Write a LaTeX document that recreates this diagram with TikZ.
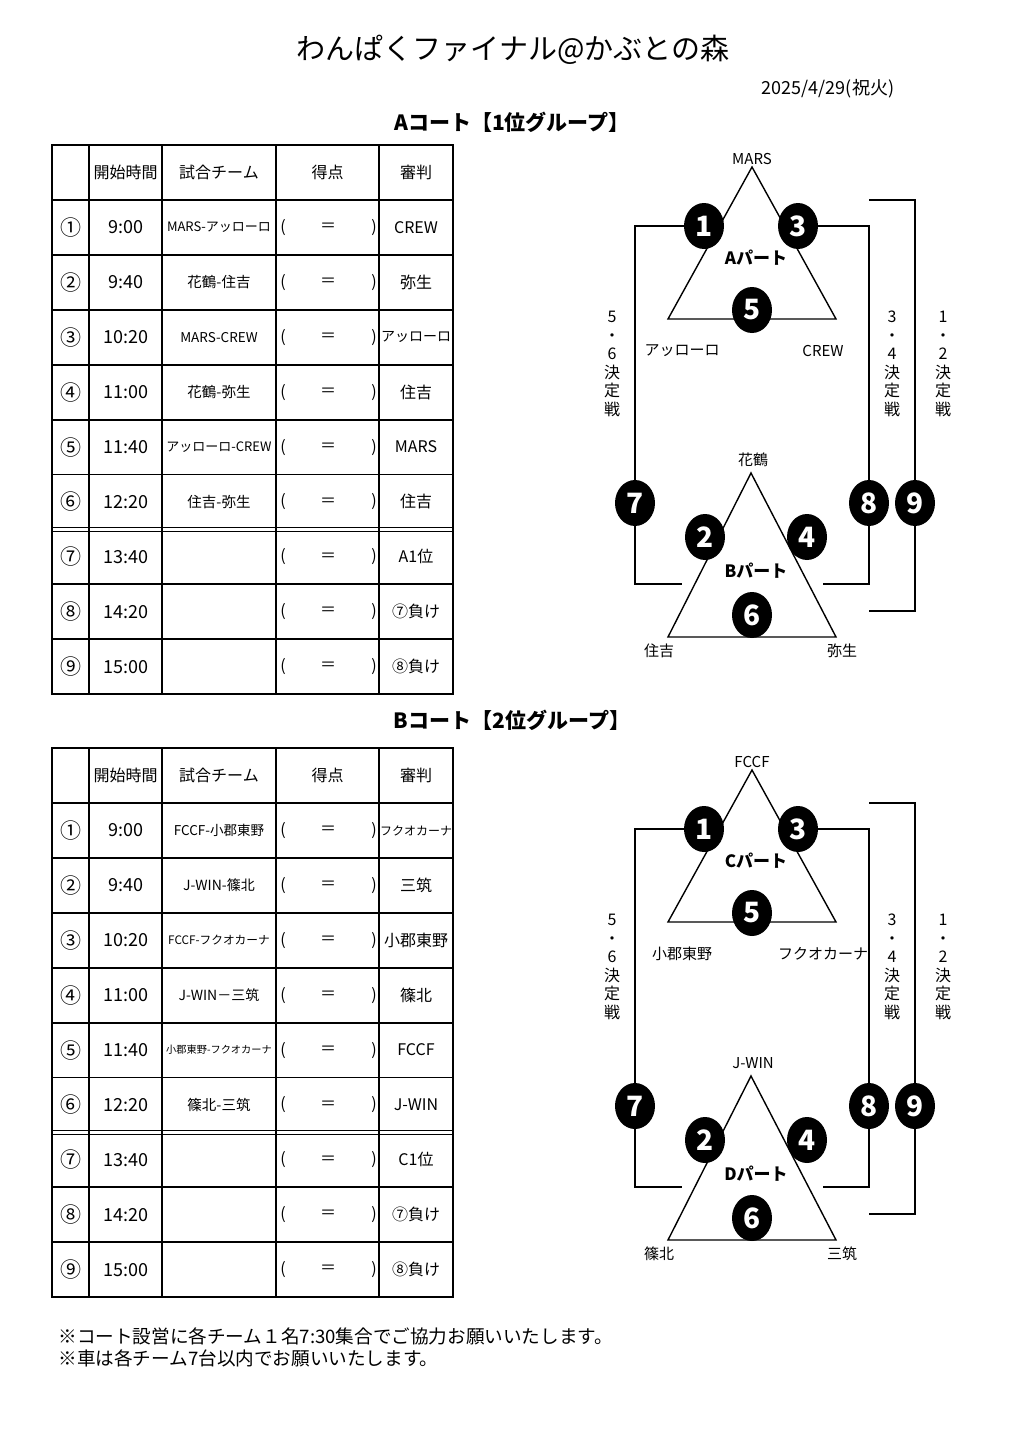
\documentclass[tikz,border=0pt]{standalone}
\usepackage{fontspec}
\setmainfont{Noto Sans CJK JP}
\usetikzlibrary{shapes.geometric}
\newcommand{\fs}[1]{\fontsize{#1}{#1}\selectfont}

\tikzset{
  tbl/.style={line width=1.8pt},
  cell/.style={inner sep=0pt, font=\fs{16}},
  gamedot/.style={ellipse, fill=black, text=white, minimum width=40pt,
    minimum height=46pt, inner sep=0pt, font=\bfseries\fs{28}},
  tri/.style={line width=1.4pt, line join=miter},
  bracket/.style={line width=2.8pt},
  lbl/.style={inner sep=0pt, font=\fs{15}},
  vlbl/.style={inner sep=0pt, align=center, font=\fontsize{16}{18.5}\selectfont},
}

\begin{document}
\begin{tikzpicture}[x=1pt, y=-1pt]
  \useasboundingbox (0,0) rectangle (1031,1435);

  \node[font=\fs{29}] (title) at (513,50) {わんぱくファイナル@かぶとの森};
  \node[font=\fs{18}] (date) at (828,89) {2025/4/29(祝火)};
  \node[font=\bfseries\fs{21}] (headA) at (512,122) {Aコート【1位グループ】};
  \node[font=\bfseries\fs{21}] (headB) at (512,720) {Bコート【2位グループ】};

  %% table grids
  \foreach \T/\g in {145/a, 748/b}{
    \draw[tbl] (52,\T) rectangle (453,\T+549);
    \foreach \cx in {89,162,276,379}
      \draw[tbl] (\cx,\T) -- (\cx,\T+549);
    \foreach \k in {0,...,5,7,8}
      \draw[tbl] (52,\T+55+54.9*\k) -- (453,\T+55+54.9*\k);
    \draw[line width=1.1pt] (52,\T+382.6) -- (453,\T+382.6);
    \draw[line width=1.1pt] (52,\T+386.2) -- (453,\T+386.2);
    \node[cell] (\g-h1) at (125.5,\T+27.5) {開始時間};
    \node[cell] (\g-h2) at (219,\T+27.5) {試合チーム};
    \node[cell] (\g-h3) at (327.5,\T+27.5) {得点};
    \node[cell] (\g-h4) at (416,\T+27.5) {審判};
    \foreach \k in {1,...,9}{
      \pgfmathsetmacro\yy{\T+55+54.9*(\k-0.5)}
      \node[cell] (\g-l\k) at (283,\yy) {(};
      \node[cell] (\g-e\k) at (328,\yy) {＝};
      \node[cell] (\g-r\k) at (374,\yy) {)};
    }
  }

  %% A court rows
  \foreach \gno/\tm/\sz/\tmm/\rf [count=\k] in {
    ①/9:00/13/MARS-アッローロ/CREW,
    ②/9:40/14.5/花鶴-住吉/弥生,
    ③/10:20/13.5/MARS-CREW/{\fs{14}アッローロ},
    ④/11:00/14.5/花鶴-弥生/住吉,
    ⑤/11:40/13/アッローロ-CREW/MARS,
    ⑥/12:20/14.5/住吉-弥生/住吉,
    ⑦/13:40/14//A1位,
    ⑧/14:20/14//⑦負け,
    ⑨/15:00/14//⑧負け}{
    \pgfmathsetmacro\yy{200+54.9*(\k-0.5)}
    \node[cell, font=\fs{21}] (a-n\k) at (71,\yy) {\gno};
    \node[cell, font=\fs{18}] (a-t\k) at (126,\yy) {\tm};
    \node[cell, font=\fs{\sz}] (a-m\k) at (219,\yy) {\tmm};
    \node[cell] (a-f\k) at (416,\yy) {\rf};
  }

  %% B court rows
  \foreach \gno/\tm/\sz/\tmm/\rf [count=\k] in {
    ①/9:00/13.5/FCCF-小郡東野/{\fs{12}フクオカーナ},
    ②/9:40/14/J-WIN-篠北/三筑,
    ③/10:20/11.7/FCCF-フクオカーナ/小郡東野,
    ④/11:00/14/J-WIN－三筑/篠北,
    ⑤/11:40/10.2/小郡東野-フクオカーナ/FCCF,
    ⑥/12:20/14.5/篠北-三筑/J-WIN,
    ⑦/13:40/14//C1位,
    ⑧/14:20/14//⑦負け,
    ⑨/15:00/14//⑧負け}{
    \pgfmathsetmacro\yy{803+54.9*(\k-0.5)}
    \node[cell, font=\fs{21}] (b-n\k) at (71,\yy) {\gno};
    \node[cell, font=\fs{18}] (b-t\k) at (126,\yy) {\tm};
    \node[cell, font=\fs{\sz}] (b-m\k) at (219,\yy) {\tmm};
    \node[cell] (b-f\k) at (416,\yy) {\rf};
  }

  %% brackets
  \foreach \dy/\upart/\lpart/\utop/\uleft/\uright/\ltop/\lleft/\lright in {
    0/A/B/MARS/アッローロ/CREW/花鶴/住吉/弥生,
    603/C/D/FCCF/小郡東野/フクオカーナ/J-WIN/篠北/三筑}{
    \draw[tri] (752,167+\dy) -- (668,319+\dy) -- (836,319+\dy) -- cycle;
    \draw[tri] (751,473+\dy) -- (668,637+\dy) -- (836,637+\dy) -- cycle;

    \node[lbl] (top\upart) at (752,159+\dy) {\utop};
    \node[lbl] (lft\upart) at (682,351+\dy) {\uleft};
    \node[lbl] (rgt\upart) at (823,351+\dy) {\uright};
    \node[lbl] (top\lpart) at (753,460+\dy) {\ltop};
    \node[lbl] (lft\lpart) at (659,651+\dy) {\lleft};
    \node[lbl] (rgt\lpart) at (842,651+\dy) {\lright};
    \node[font=\bfseries\fs{17}] (part\upart) at (756,258+\dy) {\upart{}パート};
    \node[font=\bfseries\fs{17}] (part\lpart) at (756,571+\dy) {\lpart{}パート};

    \node[vlbl] (v56\upart) at (612,364+\dy) {5\\・\\6\\決\\定\\戦};
    \node[vlbl] (v34\upart) at (892,364+\dy) {3\\・\\4\\決\\定\\戦};
    \node[vlbl] (v12\upart) at (943,364+\dy) {1\\・\\2\\決\\定\\戦};

    \node[gamedot] (g1\upart) at (704,226+\dy) {1};
    \node[gamedot] (g3\upart) at (798,226+\dy) {3};
    \node[gamedot] (g5\upart) at (752,310+\dy) {5};
    \node[gamedot] (g2\upart) at (705,537+\dy) {2};
    \node[gamedot] (g4\upart) at (807,537+\dy) {4};
    \node[gamedot] (g6\upart) at (752,615+\dy) {6};
    \node[gamedot] (g7\upart) at (635,503+\dy) {7};
    \node[gamedot] (g8\upart) at (869,503+\dy) {8};
    \node[gamedot] (g9\upart) at (915,503+\dy) {9};

    \coordinate (e7\upart) at (682,584+\dy);
    \coordinate (e8\upart) at (823,584+\dy);
    \coordinate (s9\upart) at (869,200+\dy);
    \coordinate (e9\upart) at (869,611+\dy);

    \draw[bracket] (g1\upart.west) -| (g7\upart.north); %% 5-6
    \draw[bracket] (g7\upart.south) |- (e7\upart);
    \draw[bracket] (g3\upart.east) -| (g8\upart.north); %% 3-4
    \draw[bracket] (g8\upart.south) |- (e8\upart);
    \draw[bracket] (s9\upart) -| (g9\upart.north); %% 1-2
    \draw[bracket] (g9\upart.south) |- (e9\upart);
  }

  \node[anchor=west, align=left, font=\fontsize{18.6}{22}\selectfont] (note) at (55,1347)
    {※コート設営に各チーム１名7:30集合でご協力お願いいたします。\\※車は各チーム7台以内でお願いいたします。};

\end{tikzpicture}
\end{document}
